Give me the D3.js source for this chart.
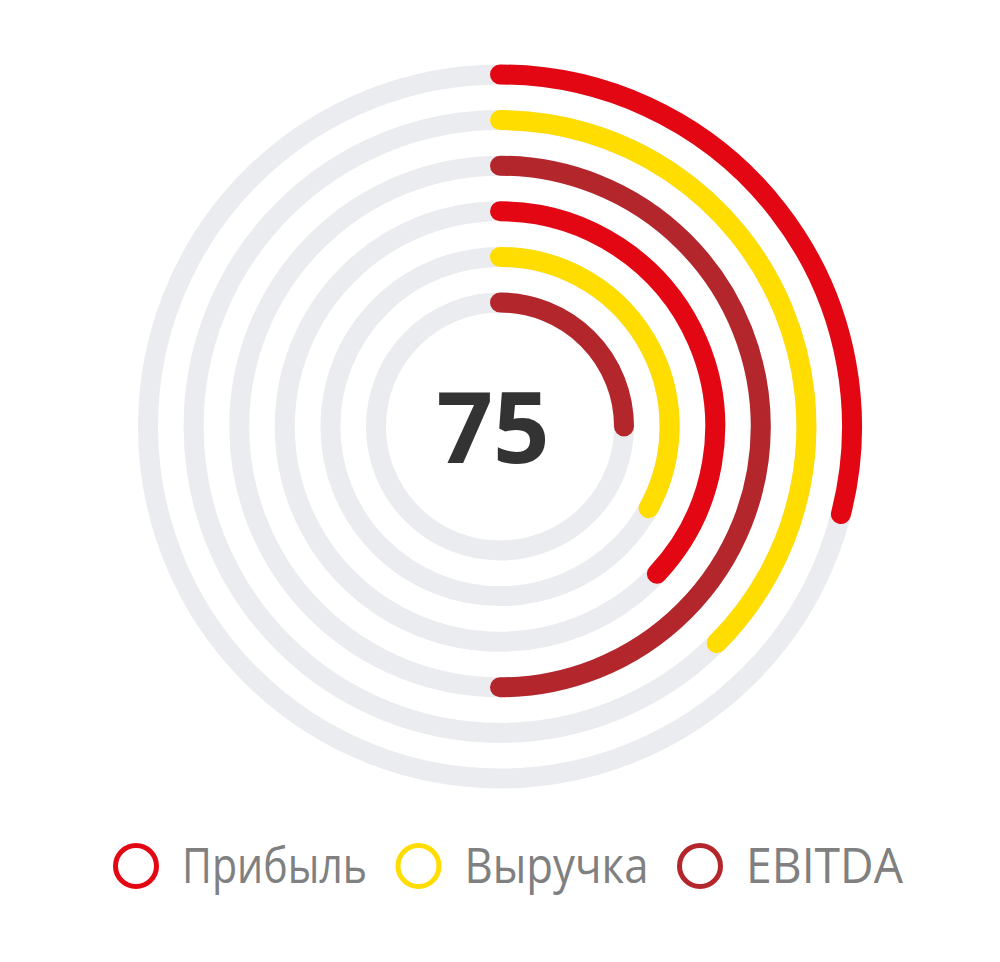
<!DOCTYPE html>
<html>
<head>
<meta charset="utf-8">
<script src="https://cdn.jsdelivr.net/npm/d3@7"></script>
<style>
  html, body { margin: 0; padding: 0; background: #fff; }
  svg { display: block; }
</style>
</head>
<body>
<svg id="chart" width="1000" height="962"></svg>
<script>
// Rings, outer to inner
const ringSeries = ['Прибыль', 'Выручка', 'EBITDA', 'Прибыль', 'Выручка', 'EBITDA'];
const ringValues = [29, 37.5, 50, 37, 33, 25];

// Legend
const seriesNames = ['Прибыль', 'Выручка', 'EBITDA'];
const seriesColors = ['#e30613', '#ffdd00', '#b3262c'];

const centerLabel = '75';

const svg = d3.select('#chart');
const cx = 500, cy = 426.5;
const ringWidth = 20;
// legend label widths (the original face is narrower than Open Sans)
const legendTextWidth = [185, 184, 157];

const color = d3.scaleOrdinal().domain(seriesNames).range(seriesColors);

const radius = d3.scalePoint()
  .domain(d3.range(ringValues.length))
  .range([352, 124]);

const angle = d3.scaleLinear()
  .domain([0, 100])
  .range([0, 2 * Math.PI]);

const plot = svg.append('g')
  .attr('transform', `translate(${cx}, ${cy})`);

// Grey tracks
plot.selectAll('circle.track')
  .data(ringValues)
  .join('circle')
  .attr('class', 'track')
  .attr('r', (d, i) => radius(i))
  .attr('fill', 'none')
  .attr('stroke', '#ebecf0')
  .attr('stroke-width', ringWidth);

// Value arcs
function arcPath(r, v) {
  const p = d3.path();
  const a0 = -Math.PI / 2;
  p.arc(0, 0, r, a0, a0 + angle(v), false);
  return p.toString();
}

plot.selectAll('path.bar')
  .data(ringValues)
  .join('path')
  .attr('class', 'bar')
  .attr('d', (d, i) => arcPath(radius(i), d))
  .attr('fill', 'none')
  .attr('stroke', (d, i) => color(ringSeries[i]))
  .attr('stroke-width', ringWidth)
  .attr('stroke-linecap', 'round');

// Center number
svg.append('text')
  .attr('x', 493)
  .attr('y', 463)
  .attr('text-anchor', 'middle')
  .attr('font-family', '"Open Sans", sans-serif')
  .attr('font-weight', 700)
  .attr('font-size', 99)
  .attr('fill', '#333333')
  .text(centerLabel);

// Legend
const legend = svg.append('g')
  .attr('transform', 'translate(0, 866)');

let x = 113;
seriesNames.forEach((name, i) => {
  const item = legend.append('g').attr('transform', `translate(${x}, 0)`);
  item.append('circle')
    .attr('cx', 23)
    .attr('cy', 0)
    .attr('r', 20.5)
    .attr('fill', 'none')
    .attr('stroke', color(name))
    .attr('stroke-width', 5);
  item.append('text')
    .attr('x', 69)
    .attr('y', 17)
    .attr('font-family', '"Open Sans", sans-serif')
    .attr('font-size', 49)
    .attr('fill', '#808080')
    .attr('textLength', legendTextWidth[i])
    .attr('lengthAdjust', 'spacingAndGlyphs')
    .text(name);
  x += 69 + legendTextWidth[i] + 28.5;
});
</script>
</body>
</html>
